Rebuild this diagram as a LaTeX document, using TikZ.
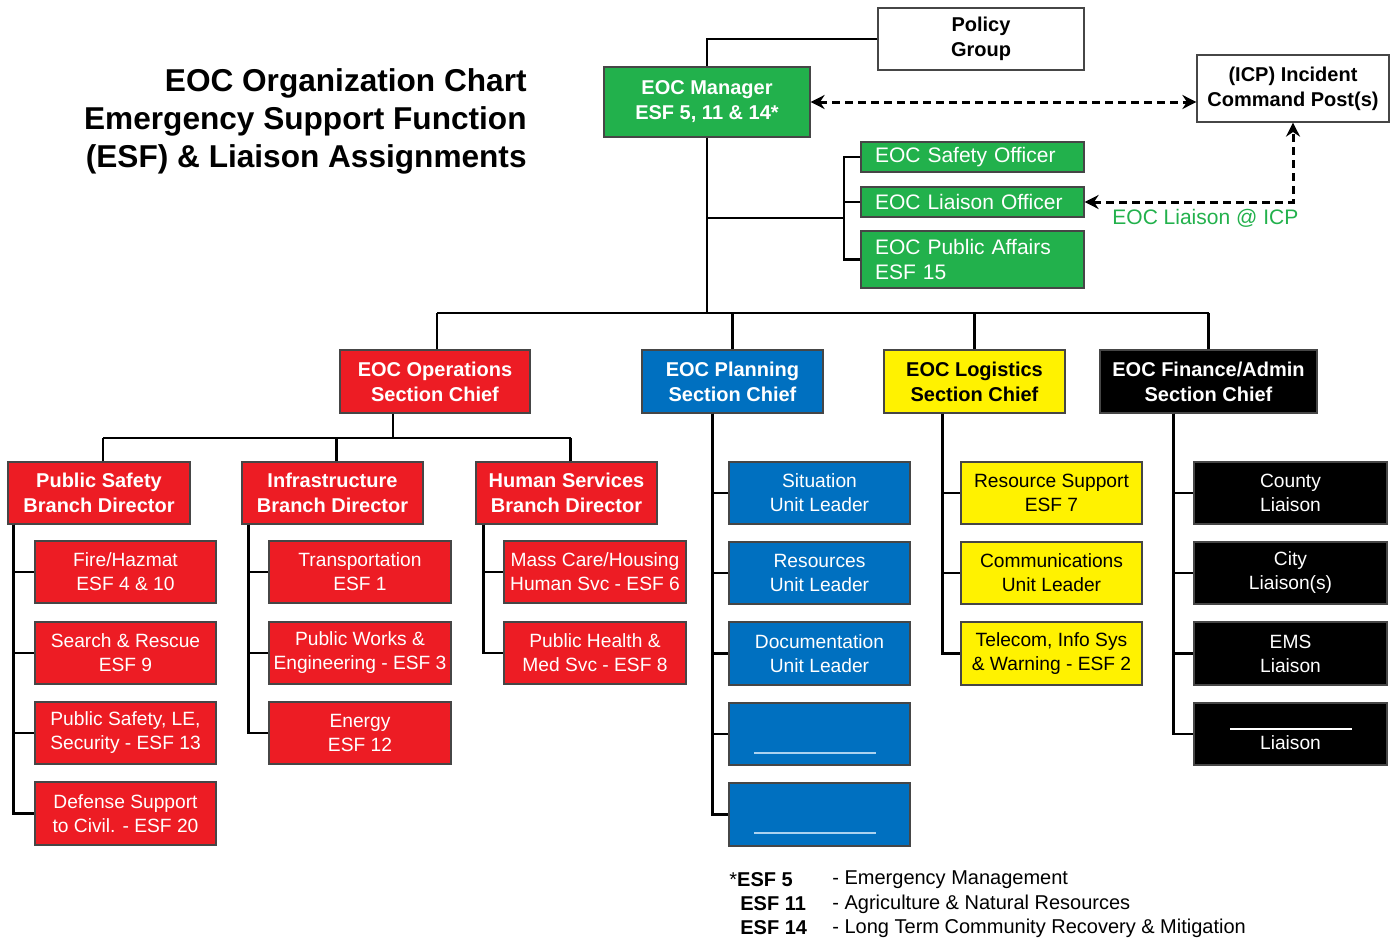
\documentclass[tikz,border=0pt]{standalone}
\usepackage{fontspec}
\setmainfont{Liberation Sans}
\usetikzlibrary{arrows.meta}
\definecolor{eocgreen}{RGB}{34,177,76}
\definecolor{eocred}{RGB}{237,28,36}
\definecolor{eocblue}{RGB}{0,112,192}
\definecolor{eocyellow}{RGB}{255,242,0}
\definecolor{bordergray}{RGB}{70,70,70}
\definecolor{blankblue}{RGB}{170,210,240}
\newcommand\bnode[7]{\node[#2, minimum width={(#5-#3)*0.5pt}, minimum height={(#6-#4)*0.5pt}] (#1) at ({(#3+#5)/2},{(#4+#6)/2}) {#7};}
\tikzset{
  box/.style={rectangle, draw=bordergray, line width=0.6pt, inner sep=0pt, align=center},
  hd/.style={font=\fontsize{10}{12.5}\selectfont\bfseries},
  it/.style={font=\fontsize{9.6}{12}\selectfont},
  whitebox/.style={box, fill=white, text=black, hd},
  greenhd/.style={box, fill=eocgreen, text=white, hd},
  staffbox/.style={box, fill=eocgreen, text=white, font=\fontsize{10.5}{12.5}\selectfont, align=left, inner xsep=7pt, text width=97.5pt},
  redhd/.style={box, fill=eocred, text=white, hd},
  reditem/.style={box, fill=eocred, text=white, it},
  bluehd/.style={box, fill=eocblue, text=white, hd},
  blueitem/.style={box, fill=eocblue, text=white, it},
  yellowhd/.style={box, fill=eocyellow, text=black, hd},
  yellowitem/.style={box, fill=eocyellow, text=black, it},
  blackhd/.style={box, fill=black, text=white, hd},
  blackitem/.style={box, fill=black, text=white, it},
  conn/.style={draw=black, line width=1.35pt},
  dlink/.style={draw=black, line width=1.5pt, dash pattern=on 4pt off 2.5pt, {Stealth[length=7pt,width=7pt]}-{Stealth[length=7pt,width=7pt]}},
  foot/.style={inner sep=0pt, font=\fontsize{10}{12}\selectfont},
}
\begin{document}
\begin{tikzpicture}[x=0.5pt,y=-0.5pt]
\useasboundingbox (0,0) rectangle (1399,938);
\fill[white] (0,0) rectangle (1399,938);

% title
\node[anchor=east, align=right, inner sep=0pt, font=\fontsize{15.8}{19}\selectfont\bfseries] (title) at (527,121)
  {EOC Organization Chart\\Emergency Support Function\\(ESF) \& Liaison Assignments};

% top level
\bnode{policy}{whitebox}{878}{8}{1084}{70}{Policy\\Group}
\bnode{mgr}{greenhd}{604}{67}{810}{137}{EOC Manager\\ESF 5, 11 \& 14*}
\bnode{icp}{whitebox}{1197}{55}{1389}{122}{(ICP) Incident\\Command Post(s)}

% staff
\bnode{safety}{staffbox}{861}{142}{1084}{172}{EOC Safety Officer}
\bnode{liaisonoff}{staffbox}{861}{187}{1084}{217}{EOC Liaison Officer}
\bnode{pubaff}{staffbox}{861}{231}{1084}{288}{EOC Public Affairs\\ESF 15}
\node[anchor=west, inner sep=0pt, text=eocgreen, font=\fontsize{10.5}{12.5}\selectfont] (liaisonlbl) at (1112,218) {EOC Liaison @ ICP};

% section chiefs
\bnode{ops}{redhd}{340}{350}{530}{413}{EOC Operations\\Section Chief}
\bnode{plan}{bluehd}{642}{350}{823}{413}{EOC Planning\\Section Chief}
\bnode{logi}{yellowhd}{884}{350}{1065}{413}{EOC Logistics\\Section Chief}
\bnode{fin}{blackhd}{1100}{350}{1317}{413}{EOC Finance/Admin\\Section Chief}

% branch directors
\bnode{ps}{redhd}{8}{462}{190}{524}{Public Safety\\Branch Director}
\bnode{inf}{redhd}{242}{462}{423}{524}{Infrastructure\\Branch Director}
\bnode{hs}{redhd}{476}{462}{657}{524}{Human Services\\Branch Director}

% public safety items
\bnode{fire}{reditem}{35}{541}{216}{603}{Fire/Hazmat\\ESF 4 \& 10}
\bnode{sar}{reditem}{35}{622}{216}{684}{Search \& Rescue\\ESF 9}
\bnode{psle}{reditem}{35}{702}{216}{764}{Public Safety, LE,\\Security - ESF 13}
\bnode{def}{reditem}{35}{782}{216}{845}{Defense Support\\to Civil. - ESF 20}

% infrastructure items
\bnode{trans}{reditem}{269}{541}{451}{603}{Transportation\\ESF 1}
\bnode{pw}{reditem}{269}{622}{451}{684}{Public Works \&\\Engineering - ESF 3}
\bnode{energy}{reditem}{269}{702}{451}{764}{Energy\\ESF 12}

% human services items
\bnode{mass}{reditem}{504}{541}{686}{603}{Mass Care/Housing\\Human Svc - ESF 6}
\bnode{health}{reditem}{504}{622}{686}{684}{Public Health \&\\Med Svc - ESF 8}

% planning items
\bnode{sit}{blueitem}{729}{462}{910}{524}{Situation\\Unit Leader}
\bnode{res}{blueitem}{729}{542}{910}{604}{Resources\\Unit Leader}
\bnode{doc}{blueitem}{729}{622}{910}{685}{Documentation\\Unit Leader}
\bnode{blankA}{blueitem}{729}{703}{910}{765}{}
\bnode{blankB}{blueitem}{729}{783}{910}{846}{}
\draw[blankblue, line width=1pt] (754,753) -- (876,753);
\draw[blankblue, line width=1pt] (754,833) -- (876,833);

% logistics items
\bnode{ressup}{yellowitem}{961}{462}{1142}{524}{Resource Support\\ESF 7}
\bnode{comm}{yellowitem}{961}{542}{1142}{604}{Communications\\Unit Leader}
\bnode{tele}{yellowitem}{961}{622}{1142}{685}{Telecom, Info Sys\\\& Warning - ESF 2}

% finance items
\bnode{county}{blackitem}{1194}{462}{1387}{524}{County\\Liaison}
\bnode{city}{blackitem}{1194}{542}{1387}{604}{City\\Liaison(s)}
\bnode{ems}{blackitem}{1194}{622}{1387}{685}{EMS\\Liaison}
\node[box, fill=black, minimum width={193*0.5pt}, minimum height={62*0.5pt}] (other) at (1290.5,734) {};
\node[inner sep=0pt, text=white, it] (otherlbl) at (1290.5,743) {Liaison};
\draw[white, line width=1pt] (1230,729) -- (1352,729);

% connectors: top
\draw[conn] (policy.west) -| (mgr.north);
\draw[dlink] (mgr.east) -- (mgr.east -| icp.west);
\draw[dlink] (liaisonoff.east) -| (icp.south);

% staff
\coordinate (sj) at (844,218);
\draw[conn] (mgr.south |- sj) -- (sj);
\draw[conn] (safety.west) -| (sj);
\draw[conn] (liaisonoff.west) -| (sj);
\draw[conn] (pubaff.west) -| (sj);

% main bus
\coordinate (bus) at (707,313);
\draw[conn] (mgr.south) -- (mgr.south |- bus);
\draw[conn] ([xshift=1pt]ops.north |- bus) -- (fin.north |- bus);
\draw[conn] ([xshift=1pt]ops.north) -- ([xshift=1pt]ops.north |- bus);
\draw[conn] (plan.north) -- (plan.north |- bus);
\draw[conn] (logi.north) -- (logi.north |- bus);
\draw[conn] (fin.north) -- (fin.north |- bus);

% operations branches
\coordinate (ob) at (393,438);
\draw[conn] (ob |- ops.south) -- (ob);
\draw[conn] ([xshift=2pt]ps.north |- ob) -- ([xshift=2pt]hs.north |- ob);
\draw[conn] ([xshift=2pt]ps.north) -- ([xshift=2pt]ps.north |- ob);
\draw[conn] ([xshift=2pt]inf.north) -- ([xshift=2pt]inf.north |- ob);
\draw[conn] ([xshift=2pt]hs.north) -- ([xshift=2pt]hs.north |- ob);

% spines
\foreach \it in {fire,sar,psle,def} \draw[conn] ([xshift=3pt]ps.south west) |- (\it.west);
\foreach \it in {trans,pw,energy} \draw[conn] ([xshift=3.5pt]inf.south west) |- (\it.west);
\foreach \it in {mass,health} \draw[conn] ([xshift=4pt]hs.south west) |- (\it.west);
\foreach \it in {sit,res,doc,blankA,blankB} \draw[conn] ([xshift=35.5pt]plan.south west) |- (\it.west);
\foreach \it in {ressup,comm,tele} \draw[conn] ([xshift=29.5pt]logi.south west) |- (\it.west);
\foreach \it in {county,city,ems,other} \draw[conn] ([xshift=37pt]fin.south west) |- (\it.west);

% footnote
\node[foot, anchor=west] (f1) at (729,880) {*\textbf{ESF 5}};
\node[foot, anchor=west] (f2) at (740,904) {\textbf{ESF 11}};
\node[foot, anchor=west] (f3) at (740,928) {\textbf{ESF 14}};
\node[foot, anchor=west] (d1) at (832,880) {- Emergency Management};
\node[foot, anchor=west] (d2) at (832,904) {- Agriculture \& Natural Resources};
\node[foot, anchor=west] (d3) at (832,928) {- Long Term Community Recovery \& Mitigation};
\end{tikzpicture}
\end{document}
